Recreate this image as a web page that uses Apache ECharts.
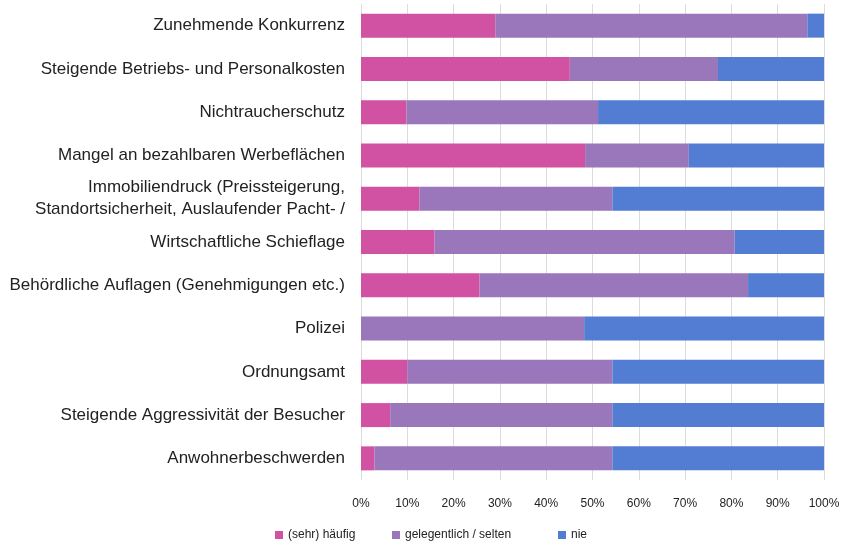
<!DOCTYPE html>
<html>
<head>
<meta charset="utf-8">
<script src="https://cdn.jsdelivr.net/npm/echarts@6/dist/echarts.min.js"></script>
<style>html,body{margin:0;padding:0;background:#fff}#c{width:850px;height:546px}</style>
</head>
<body>
<div id="c"></div>
<script>
const categories = [
  "Zunehmende Konkurrenz",
  "Steigende Betriebs- und Personalkosten",
  "Nichtraucherschutz",
  "Mangel an bezahlbaren Werbeflächen",
  "Immobiliendruck (Preissteigerung,\nStandortsicherheit, Auslaufender Pacht- /",
  "Wirtschaftliche Schieflage",
  "Behördliche Auflagen (Genehmigungen etc.)",
  "Polizei",
  "Ordnungsamt",
  "Steigende Aggressivität der Besucher",
  "Anwohnerbeschwerden"
];
const seriesNames = ["(sehr) häufig", "gelegentlich / selten", "nie"];
const haeufig     = [29.0, 45.1,  9.8, 48.4, 12.6, 15.9, 25.6,  0.0, 10.0,  6.3,  2.9];
const gelegentlich= [67.4, 32.0, 41.4, 22.4, 41.7, 64.8, 58.0, 48.2, 44.3, 48.0, 51.4];
const nie         = [ 3.6, 22.9, 48.8, 29.2, 45.7, 19.3, 16.4, 51.8, 45.7, 45.7, 45.7];
const colors = ["#D152A2", "#9A76BA", "#537CD3"];
const values = [haeufig, gelegentlich, nie];

const font = "'Liberation Sans', Arial, sans-serif";
const chart = echarts.init(document.getElementById('c'), null, {renderer: 'canvas'});
const legendLefts = [275, 392, 558];
chart.setOption({
  animation: false,
  backgroundColor: '#fff',
  grid: {left: 361, right: 26, top: 4, height: 476, containLabel: false},
  xAxis: {
    type: 'value', min: 0, max: 100, interval: 10,
    axisLabel: {formatter: '{value}%', color: '#222', fontSize: 12, fontFamily: font, margin: 18},
    axisLine: {show: false}, axisTick: {show: false},
    splitLine: {show: true, lineStyle: {color: '#dcdcdc', width: 1}}
  },
  yAxis: {
    type: 'category', data: categories, inverse: true,
    axisLine: {show: false}, axisTick: {show: false},
    axisLabel: {color: '#222', fontSize: 17, fontFamily: font, margin: 16, lineHeight: 22, align: 'right'}
  },
  legend: seriesNames.map((n, i) => ({
    data: [n], left: legendLefts[i], top: 529, itemWidth: 8, itemHeight: 8,
    icon: 'rect', selectedMode: false, padding: 0,
    textStyle: {color: '#222', fontSize: 12, fontFamily: font}
  })),
  series: seriesNames.map((n, i) => ({
    name: n, type: 'bar', stack: 'total', data: values[i], barWidth: 24,
    itemStyle: {color: colors[i]}
  }))
});
</script>
</body>
</html>
